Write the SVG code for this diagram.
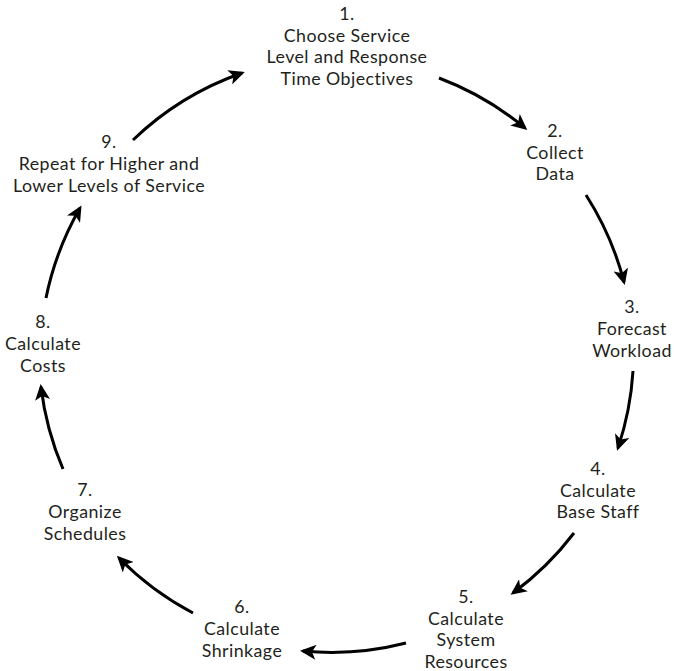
<svg xmlns="http://www.w3.org/2000/svg" width="674" height="671" viewBox="0 0 674 671">
<defs>
<style>
.lbl{font-family:Lato,"Open Sans","Liberation Sans",sans-serif;font-size:17.8px;letter-spacing:0.45px;fill:#231f20;text-anchor:middle}
.arr{fill:none;stroke:#000;stroke-width:3;marker-end:url(#ah)}
</style>
<marker id="ah" markerUnits="userSpaceOnUse" markerWidth="17" markerHeight="15" viewBox="0 0 17 15" refX="13" refY="7.5" orient="auto">
<path d="M0,0 L16,7.5 L0,15 L4,7.5 Z" fill="#000"/>
</marker>
</defs>
<rect width="674" height="671" fill="#fff"/>
<g id="connectors">
<path class="arr" d="M439,78 A300,300 0 0 1 525,128"/>
<path class="arr" d="M586,195 A300,300 0 0 1 624,282"/>
<path class="arr" d="M633,371 A300,300 0 0 1 618,448"/>
<path class="arr" d="M574,533 A300,300 0 0 1 513,593"/>
<path class="arr" d="M406,643 A300,300 0 0 1 303,651"/>
<path class="arr" d="M193,613 A300,300 0 0 1 119,558"/>
<path class="arr" d="M63,469 A300,300 0 0 1 41,387"/>
<path class="arr" d="M46,298 A300,300 0 0 1 80,208"/>
<path class="arr" d="M133,140 A300,300 0 0 1 242,73"/>
</g>
<g id="node1"><text class="lbl" x="347" y="20">1.<tspan x="347" dy="21.7">Choose Service</tspan><tspan x="347" dy="21.7">Level and Response</tspan><tspan x="347" dy="21.7">Time Objectives</tspan></text></g>
<g id="node2"><text class="lbl" x="555" y="137">2.<tspan x="555" dy="21.5">Collect</tspan><tspan x="555" dy="21.5">Data</tspan></text></g>
<g id="node3"><text class="lbl" x="632" y="313">3.<tspan x="632" dy="22">Forecast</tspan><tspan x="632" dy="22">Workload</tspan></text></g>
<g id="node4"><text class="lbl" x="598" y="475">4.<tspan x="598" dy="21.5">Calculate</tspan><tspan x="598" dy="21.5">Base Staff</tspan></text></g>
<g id="node5"><text class="lbl" x="466" y="603">5.<tspan x="466" dy="21.5">Calculate</tspan><tspan x="466" dy="21.5">System</tspan><tspan x="466" dy="21.5">Resources</tspan></text></g>
<g id="node6"><text class="lbl" x="242" y="613">6.<tspan x="242" dy="22">Calculate</tspan><tspan x="242" dy="22">Shrinkage</tspan></text></g>
<g id="node7"><text class="lbl" x="85" y="496">7.<tspan x="85" dy="22">Organize</tspan><tspan x="85" dy="22">Schedules</tspan></text></g>
<g id="node8"><text class="lbl" x="43" y="328">8.<tspan x="43" dy="22">Calculate</tspan><tspan x="43" dy="22">Costs</tspan></text></g>
<g id="node9"><text class="lbl" x="109" y="148">9.<tspan x="109" dy="22">Repeat for Higher and</tspan><tspan x="109" dy="22">Lower Levels of Service</tspan></text></g>
</svg>
